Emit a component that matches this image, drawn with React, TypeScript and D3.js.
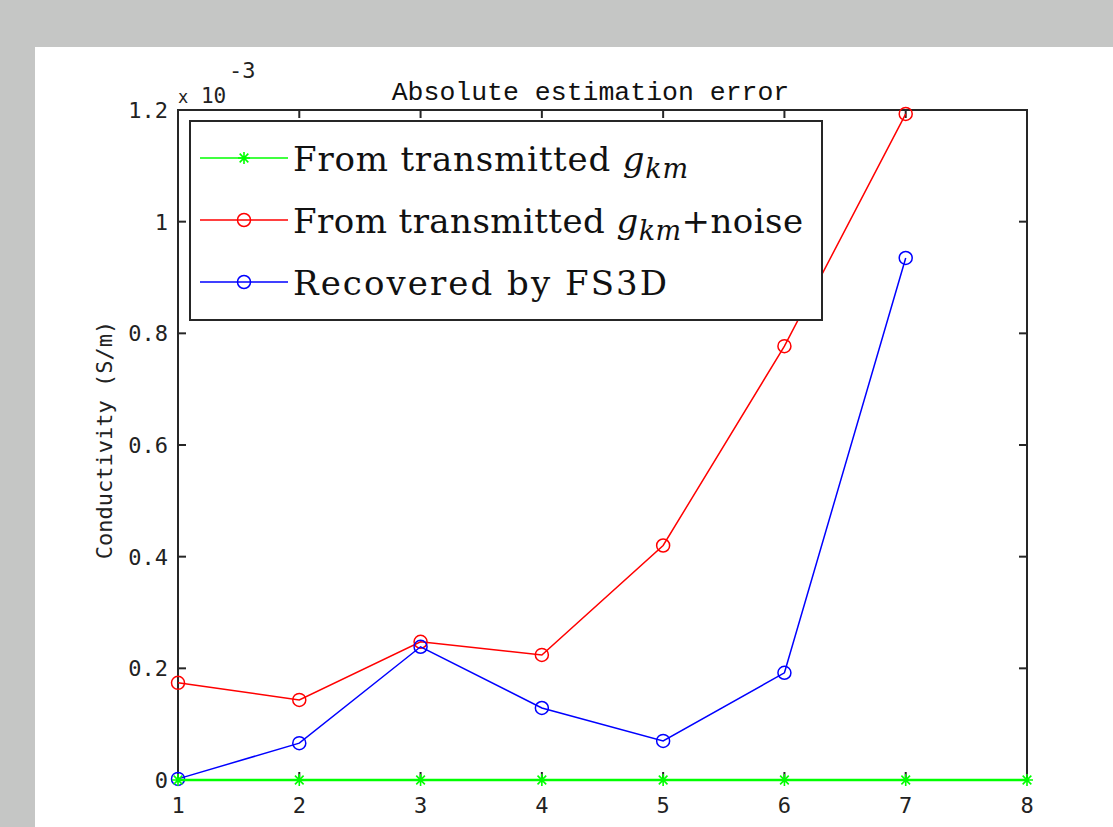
import React from "react";
import * as d3 from "d3";

const xValues = [1, 2, 3, 4, 5, 6, 7];
const greenX = [1, 2, 3, 4, 5, 6, 7, 8];
const greenY = [0, 0, 0, 0, 0, 0, 0, 0];
const redY = [0.174, 0.1435, 0.2476, 0.224, 0.42, 0.777, 1.193];
const blueY = [0.002, 0.066, 0.2386, 0.129, 0.07, 0.192, 0.935];
const xTicks = [1, 2, 3, 4, 5, 6, 7, 8];
const yTicks = [0, 0.2, 0.4, 0.6, 0.8, 1, 1.2];
const yTickLabels = ["0", "0.2", "0.4", "0.6", "0.8", "1", "1.2"];

const W = 1113;
const H = 827;
const left = 178;
const right = 1027;
const top = 110;
const bottom = 780;

const mono = "'DejaVu Sans Mono', monospace";
const serif = "'DejaVu Serif', serif";

function Star({ x, y, color }: { x: number; y: number; color: string }) {
  const s = 6;
  const d = s * 0.72;
  const p = `M${x - s},${y}L${x + s},${y}M${x},${y - s}L${x},${y + s}M${x - d},${y - d}L${x + d},${y + d}M${x - d},${y + d}L${x + d},${y - d}`;
  return <path d={p} stroke={color} strokeWidth={1.6} fill="none" />;
}

export default function App() {
  const x = d3.scaleLinear().domain([1, 8]).range([left, right]);
  const y = d3.scaleLinear().domain([0, 1.2]).range([bottom, top]);
  const line = d3
    .line<[number, number]>()
    .x((d) => x(d[0]))
    .y((d) => y(d[1]));

  const red: [number, number][] = xValues.map((v, i) => [v, redY[i]]);
  const blue: [number, number][] = xValues.map((v, i) => [v, blueY[i]]);
  const green: [number, number][] = greenX.map((v, i) => [v, greenY[i]]);

  const axisColor = "#262626";
  const tickLen = 8;

  const legendRows = [
    { color: "#00ff00", marker: "star", y: 158 },
    { color: "#ff0000", marker: "circle", y: 220 },
    { color: "#0000ff", marker: "circle", y: 282 },
  ];

  return (
    <svg
      width={W}
      height={H}
      style={{ position: "absolute", left: 0, top: 0, display: "block" }}
    >
      <rect x={0} y={0} width={W} height={H} fill="#c5c6c5" />
      <rect x={35} y={47} width={W - 35} height={H - 47} fill="#ffffff" />

      {/* axes box */}
      <rect
        x={left}
        y={top}
        width={right - left}
        height={bottom - top}
        fill="none"
        stroke={axisColor}
        strokeWidth={2}
      />
      {xTicks.map((t) => (
        <g key={"xt" + t}>
          <line x1={x(t)} x2={x(t)} y1={bottom} y2={bottom - tickLen} stroke={axisColor} strokeWidth={2} />
          <line x1={x(t)} x2={x(t)} y1={top} y2={top + tickLen} stroke={axisColor} strokeWidth={2} />
          <text
            x={x(t)}
            y={813}
            textAnchor="middle"
            fontFamily={mono}
            fontSize={22}
            fill="#222"
          >
            {t}
          </text>
        </g>
      ))}
      {yTicks.map((t, i) => (
        <g key={"yt" + t}>
          <line x1={left} x2={left + tickLen} y1={y(t)} y2={y(t)} stroke={axisColor} strokeWidth={2} />
          <line x1={right} x2={right - tickLen} y1={y(t)} y2={y(t)} stroke={axisColor} strokeWidth={2} />
          <text
            x={168}
            y={y(t) + 8}
            textAnchor="end"
            fontFamily={mono}
            fontSize={22}
            fill="#222"
          >
            {yTickLabels[i]}
          </text>
        </g>
      ))}

      {/* exponent */}
      <text x={178} y={103} fontFamily={mono} fontSize={21} fill="#222">
        <tspan fontSize={17}>x</tspan> 10
      </text>
      <text x={229} y={78} fontFamily={mono} fontSize={22} fill="#222">
        -3
      </text>

      {/* title */}
      <text
        x={(left + right) / 2 - 12}
        y={100}
        textAnchor="middle"
        fontFamily="'Liberation Mono', monospace"
        fontSize={26.5}
        fill="#111"
      >
        Absolute estimation error
      </text>

      {/* y label */}
      <text
        transform={`translate(112,440) rotate(-90)`}
        textAnchor="middle"
        fontFamily={mono}
        fontSize={22}
        fill="#222"
      >
        Conductivity (S/m)
      </text>

      {/* series */}
      <path d={line(red) || ""} fill="none" stroke="#ff0000" strokeWidth={1.5} />
      {red.map((d, i) => (
        <circle key={"r" + i} cx={x(d[0])} cy={y(d[1])} r={6.5} fill="none" stroke="#ff0000" strokeWidth={1.5} />
      ))}
      <path d={line(blue) || ""} fill="none" stroke="#0000ff" strokeWidth={1.5} />
      {blue.map((d, i) => (
        <circle key={"b" + i} cx={x(d[0])} cy={y(d[1])} r={6.5} fill="none" stroke="#0000ff" strokeWidth={1.5} />
      ))}
      <path d={line(green) || ""} fill="none" stroke="#00ff00" strokeWidth={2.5} />
      {green.map((d, i) => (
        <Star key={"g" + i} x={x(d[0])} y={y(d[1])} color="#00ff00" />
      ))}

      {/* legend */}
      <rect x={190} y={121} width={632} height={199} fill="#ffffff" stroke={axisColor} strokeWidth={2} />
      {legendRows.map((r, i) => (
        <g key={"lg" + i}>
          <line x1={200} x2={288} y1={r.y} y2={r.y} stroke={r.color} strokeWidth={1.5} />
          {r.marker === "star" ? (
            <Star x={244} y={r.y} color={r.color} />
          ) : (
            <circle cx={244} cy={r.y} r={6.5} fill="none" stroke={r.color} strokeWidth={1.5} />
          )}
        </g>
      ))}
      <text x={293} y={171} fontFamily={serif} fontSize={34} fill="#111" textLength={395} lengthAdjust="spacing">
        From transmitted{" "}
        <tspan fontStyle="italic">g</tspan>
        <tspan fontStyle="italic" fontSize={27} dy={7}>km</tspan>
      </text>
      <text x={293} y={233} fontFamily={serif} fontSize={34} fill="#111" textLength={510} lengthAdjust="spacing">
        From transmitted{" "}
        <tspan fontStyle="italic">g</tspan>
        <tspan fontStyle="italic" fontSize={27} dy={7}>km</tspan>
        <tspan dy={-7}>+noise</tspan>
      </text>
      <text x={293} y={295} fontFamily={serif} fontSize={34} fill="#111" textLength={374} lengthAdjust="spacing">
        Recovered by FS3D
      </text>
    </svg>
  );
}
